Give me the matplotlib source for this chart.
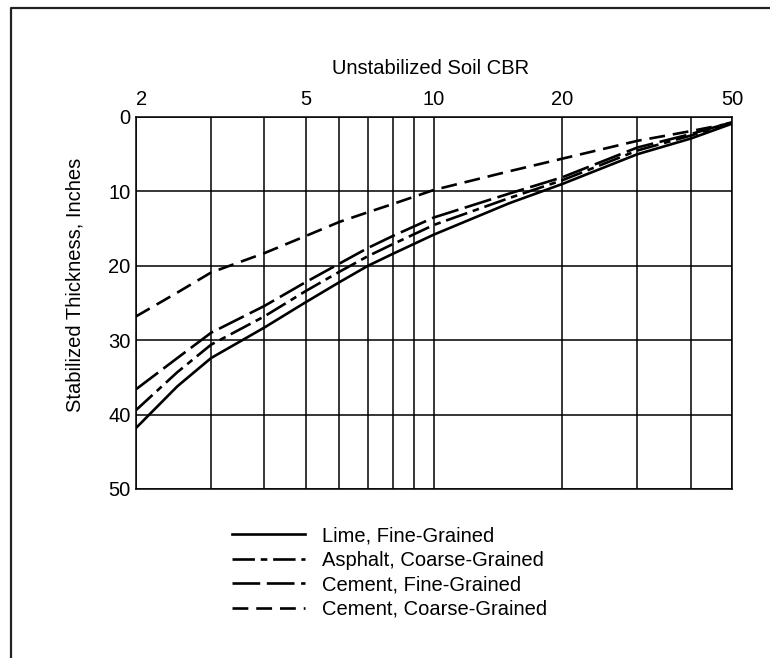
import matplotlib
matplotlib.use('Agg')
import matplotlib.pyplot as plt
from matplotlib.lines import Line2D
from matplotlib.ticker import NullLocator

plt.rcParams['font.family'] = ['Liberation Sans', 'DejaVu Sans']

# Values (CBR on log x-axis, thickness in inches)
cbr = [2, 2.5, 3, 4, 5, 6, 7, 8, 10, 15, 20, 30, 40, 50]
lime_fine = [41.8, 36.2, 32.4, 28.3, 24.9, 22.2, 20.0, 18.4, 15.8, 11.6, 9.0, 5.0, 2.9, 0.9]
asphalt_coarse = [39.4, 34.3, 30.6, 26.8, 23.4, 20.8, 18.7, 17.1, 14.5, 10.9, 8.5, 4.5, 2.5, 0.8]
cement_fine = [36.6, 32.4, 29.0, 25.4, 22.2, 19.7, 17.6, 16.0, 13.5, 10.3, 8.1, 4.1, 2.3, 0.7]
cement_coarse = [26.8, 23.6, 20.9, 18.3, 16.0, 14.1, 12.8, 11.7, 9.8, 7.3, 5.6, 3.2, 1.9, 0.8]

grid_x = [2, 3, 4, 5, 6, 7, 8, 9, 10, 20, 30, 40, 50]
labelled_x = [2, 5, 10, 20, 50]
y_ticks = [0, 10, 20, 30, 40, 50]

W, H = 770, 658
fig = plt.figure(figsize=(W / 100, H / 100), dpi=100)
ax = fig.add_axes([136 / W, 1 - 489 / H, 596 / W, 372 / H])

lw = 1.9
ax.plot(cbr, lime_fine, color='black', lw=lw, ls='-', label='Lime, Fine-Grained')
ax.plot(cbr, asphalt_coarse, color='black', lw=lw, ls=(0, (8.5, 2.2, 2.5, 2.2)),
        label='Asphalt, Coarse-Grained')
ax.plot(cbr, cement_fine, color='black', lw=lw, ls=(0, (10.5, 2.5)),
        label='Cement, Fine-Grained')
ax.plot(cbr, cement_coarse, color='black', lw=lw, ls=(0, (6, 3)),
        label='Cement, Coarse-Grained')

ax.set_xscale('log')
ax.set_xlim(2, 50)
ax.set_ylim(50, 0)
ax.xaxis.tick_top()
ax.set_xticks(grid_x)
ax.set_xticklabels([str(v) if v in labelled_x else '' for v in grid_x])
ax.xaxis.set_minor_locator(NullLocator())
ax.set_yticks(y_ticks)
ax.tick_params(axis='x', length=0, pad=6, labelsize=14.5)
ax.tick_params(axis='y', length=0, pad=4, labelsize=14.5)
ax.get_xticklabels()[0].set_ha('left')  # the "2" sits just right of the corner
ax.grid(True, which='major', color='black', lw=1.1)
for s in ax.spines.values():
    s.set_linewidth(1.1)

fig.text(431 / W, 1 - 68 / H, 'Unstabilized Soil CBR', ha='center', va='center',
         fontsize=14.5)
fig.text(75 / W, 1 - 285 / H, 'Stabilized Thickness, Inches', ha='center',
         va='center', rotation=90, fontsize=14.5)

ax.legend(loc='upper left', bbox_to_anchor=(232 / W, 1 - 526 / H),
          bbox_transform=fig.transFigure, frameon=False, fontsize=14.5,
          handlelength=3.6, handletextpad=0.85, labelspacing=0.28,
          borderpad=0, borderaxespad=0)

# outer frame (left and top edges visible in the scan)
fig.add_artist(Line2D([11 / W, 11 / W, 1.0], [0.0, 1 - 8 / H, 1 - 8 / H],
                      transform=fig.transFigure, color='#222222', lw=1.6))

fig.savefig('out.png', dpi=100)
